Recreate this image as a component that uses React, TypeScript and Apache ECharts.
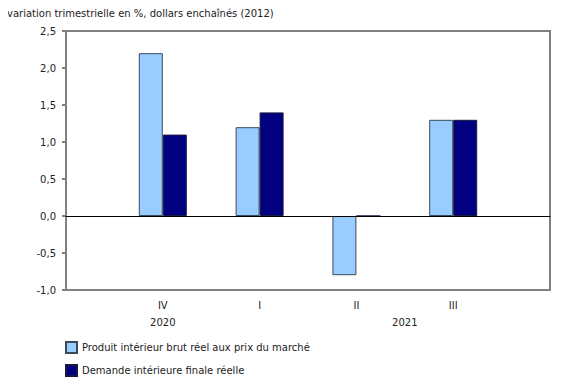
import React, { useEffect, useRef } from "react";
import * as echarts from "echarts";

const quarters = ["", "IV", "I", "II", "III", ""];
const yearSlots = ["", "", "2020", "", "", "", "", "2021", "", "", ""];
const gdp = [null, 2.2, 1.2, -0.8, 1.3, null];
const demand = [null, 1.1, 1.4, 0.0, 1.3, null];
const seriesNames = [
  "Produit intérieur brut réel aux prix du marché",
  "Demande intérieure finale réelle",
];
const title = "variation trimestrielle en %, dollars enchaînés (2012)";

const FONT = "DejaVu Sans, Verdana, sans-serif";

const legendBase = {
  orient: "vertical",
  left: 65,
  padding: 0,
  itemWidth: 11,
  itemHeight: 11,
  itemGap: 6,
  icon: "rect",
  textStyle: { fontFamily: FONT, fontSize: 10, color: "#222" },
};

export default function App() {
  const ref = useRef<HTMLDivElement>(null);
  useEffect(() => {
    if (!ref.current) return;
    const chart = echarts.init(ref.current, null, { renderer: "svg" });
    chart.setOption({
      animation: false,
      textStyle: { fontFamily: FONT, fontSize: 10, color: "#222" },
      title: {
        text: title,
        left: 2,
        top: 3,
        textStyle: { fontFamily: FONT, fontSize: 10, fontWeight: "normal", color: "#222" },
      },
      grid: {
        left: 66,
        right: 30,
        top: 31,
        bottom: 95,
        show: true,
        borderColor: "#808080",
        borderWidth: 2,
        backgroundColor: "transparent",
      },
      legend: [
        { ...legendBase, top: 341, data: [seriesNames[0]] },
        { ...legendBase, top: 364, data: [seriesNames[1]] },
      ],
      xAxis: [
        {
          type: "category",
          data: quarters,
          boundaryGap: false,
          axisLine: { show: true, onZero: true, lineStyle: { color: "#000", width: 1 } },
          axisTick: { show: false },
          axisLabel: { interval: 0, margin: 10, fontFamily: FONT, fontSize: 10, color: "#222" },
          z: 5,
        },
        {
          type: "category",
          data: yearSlots,
          boundaryGap: false,
          position: "bottom",
          offset: 17,
          axisLine: { show: false },
          axisTick: { show: false },
          axisLabel: { interval: 0, margin: 10, fontFamily: FONT, fontSize: 10, color: "#222" },
        },
      ],
      yAxis: {
        type: "value",
        min: -1,
        max: 2.5,
        interval: 0.5,
        axisLine: { show: true, lineStyle: { color: "#808080", width: 2 } },
        axisTick: { show: true, length: 4, lineStyle: { color: "#808080", width: 2 } },
        splitLine: { show: false },
        axisLabel: {
          margin: 10,
          fontFamily: FONT,
          fontSize: 10,
          color: "#222",
          formatter: (v: number) => v.toFixed(1).replace(".", ","),
        },
      },
      series: [
        {
          name: seriesNames[0],
          type: "bar",
          data: gdp,
          barWidth: 24,
          barGap: "0%",
          itemStyle: { color: "#99CCFF", borderColor: "#3a4a5a", borderWidth: 1 },
        },
        {
          name: seriesNames[1],
          type: "bar",
          data: demand,
          barWidth: 24,
          barGap: "0%",
          itemStyle: { color: "#000080", borderColor: "#1a1a40", borderWidth: 1 },
        },
      ],
    });
    return () => chart.dispose();
  }, []);
  return <div ref={ref} style={{ width: 580, height: 385, margin: -8 }} />;
}
